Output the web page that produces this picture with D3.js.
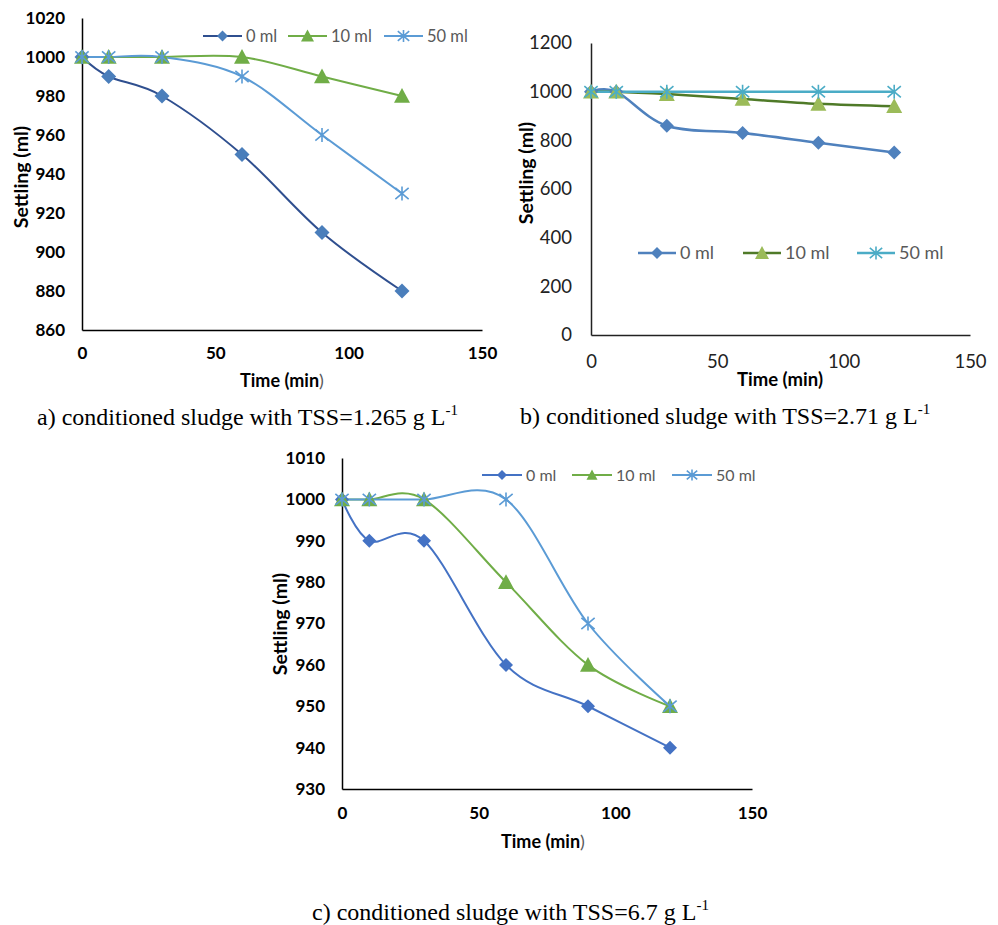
<!DOCTYPE html>
<html>
<head>
<meta charset="utf-8">
<script src="https://cdn.jsdelivr.net/npm/d3@7"></script>
<style>
  body { margin: 0; background: #fff; }
  svg { display: block; }
  .tick-label { font-family: Lato, "Open Sans", sans-serif; }
  .axis-title { font-family: Lato, "Open Sans", sans-serif; font-weight: bold; fill: #000; }
  .legend-text { font-family: Lato, "Open Sans", sans-serif; fill: #595959; }
  .caption { font-family: "Liberation Serif", "Times New Roman", serif; fill: #000; }
</style>
</head>
<body>
<svg id="chart" width="998" height="925"></svg>
<script>
// data
var times = [0, 10, 30, 60, 90, 120];
var seriesNames = ['0 ml', '10 ml', '50 ml'];
var xTicks = [0, 50, 100, 150];

// a) TSS = 1.265 g/L
var a0 = [1000, 990, 980, 950, 910, 880];
var a10 = [1000, 1000, 1000, 1000, 990, 980];
var a50 = [1000, 1000, 1000, 990, 960, 930];
var aTicks = [860, 880, 900, 920, 940, 960, 980, 1000, 1020];

// b) TSS = 2.71 g/L
var b0 = [1000, 1000, 860, 830, 790, 750];
var b10 = [1000, 1000, 990, 970, 950, 940];
var b50 = [1000, 1000, 1000, 1000, 1000, 1000];
var bTicks = [0, 200, 400, 600, 800, 1000, 1200];

// c) TSS = 6.7 g/L
var c0 = [1000, 990, 990, 960, 950, 940];
var c10 = [1000, 1000, 1000, 980, 960, 950];
var c50 = [1000, 1000, 1000, 1000, 970, 950];
var cTicks = [930, 940, 950, 960, 970, 980, 990, 1000, 1010];

var svg = d3.select('#chart');

// marker shapes
function markerPath(kind, s) {
  if (kind === 'diamond') {
    return 'M0,' + (-s) + 'L' + s + ',0L0,' + s + 'L' + (-s) + ',0Z';
  }
  if (kind === 'triangle') {
    return 'M0,' + (-s) + 'L' + s + ',' + (s * 0.85) + 'L' + (-s) + ',' + (s * 0.85) + 'Z';
  }
  // star: vertical bar plus an X
  var dx = s * 0.95, dy = s * 0.8;
  return 'M0,' + (-s) + 'L0,' + s +
    'M' + (-dx) + ',' + (-dy) + 'L' + dx + ',' + dy +
    'M' + (-dx) + ',' + dy + 'L' + dx + ',' + (-dy);
}
var kinds = ['diamond', 'triangle', 'star'];

function drawMarker(g, kind, x, y, s, color) {
  var p = g.append('path')
    .attr('d', markerPath(kind, s))
    .attr('transform', 'translate(' + x + ',' + y + ')');
  if (kind === 'star') {
    p.attr('fill', 'none').attr('stroke', color).attr('stroke-width', 1.6);
  } else {
    p.attr('fill', color);
  }
}

function drawPanel(cfg) {
  var g = svg.append('g');
  var x = d3.scaleLinear().domain([0, 150]).range([cfg.x0, cfg.x1]);
  var y = d3.scaleLinear().domain(cfg.yDomain).range([cfg.yBot, cfg.yTop]);

  // axes (only the lines, no tick marks)
  var xAxis = d3.axisBottom(x).tickValues(xTicks).tickSize(0).tickPadding(cfg.xPad)
    .tickFormat(d3.format('d'));
  var gx = g.append('g')
    .attr('transform', 'translate(0,' + cfg.yBot + ')')
    .call(xAxis);
  var yAxis = d3.axisLeft(y).tickValues(cfg.yTicks).tickSize(0).tickPadding(cfg.yPad)
    .tickFormat(d3.format('d'));
  var gy = g.append('g')
    .attr('transform', 'translate(' + cfg.x0 + ',0)')
    .call(yAxis);

  [gx, gy].forEach(function (ax) {
    ax.select('.domain').attr('stroke', cfg.axisColor).attr('stroke-width', cfg.axisWidth);
    ax.selectAll('text')
      .attr('class', 'tick-label')
      .style('font-size', cfg.tickSize + 'px')
      .style('font-weight', cfg.tickBold ? 'bold' : 'normal')
      .attr('fill', cfg.tickColor);
  });

  // axis titles
  var xt = g.append('text')
    .attr('class', 'axis-title')
    .attr('x', cfg.xTitle[0])
    .attr('y', cfg.xTitle[1])
    .attr('text-anchor', 'middle')
    .style('font-size', cfg.titleSize + 'px');
  xt.append('tspan').text('Time (min');
  xt.append('tspan').text(')').style('font-weight', cfg.parenBold ? 'bold' : 'normal')
    .attr('fill', cfg.parenBold ? '#000' : '#595959');

  g.append('text')
    .attr('class', 'axis-title')
    .attr('transform', 'translate(' + cfg.yTitle[0] + ',' + cfg.yTitle[1] + ') rotate(-90)')
    .attr('text-anchor', 'middle')
    .style('font-size', '19.5px')
    .text('Settling (ml)');

  // series
  var line = d3.line()
    .x(function (d) { return x(d[0]); })
    .y(function (d) { return y(d[1]); })
    .curve(d3.curveCardinal.tension(0));

  cfg.series.forEach(function (vals, i) {
    var pts = times.map(function (t, j) { return [t, vals[j]]; });
    g.append('path')
      .datum(pts)
      .attr('fill', 'none')
      .attr('stroke', cfg.lineColors[i])
      .attr('stroke-width', cfg.lineWidth)
      .attr('d', line);
  });
  cfg.series.forEach(function (vals, i) {
    times.forEach(function (t, j) {
      drawMarker(g, kinds[i], x(t), y(vals[j]), cfg.markerSize[i], cfg.markerColors[i]);
    });
  });

  // legend
  seriesNames.forEach(function (name, i) {
    var lx = cfg.legendX[i], ly = cfg.legendY;
    g.append('line')
      .attr('x1', lx).attr('x2', lx + cfg.legendLen)
      .attr('y1', ly).attr('y2', ly)
      .attr('stroke', cfg.lineColors[i])
      .attr('stroke-width', cfg.lineWidth);
    drawMarker(g, kinds[i], lx + cfg.legendLen / 2, ly, cfg.legendMarker[i], cfg.markerColors[i]);
    g.append('text')
      .attr('class', 'legend-text')
      .attr('x', lx + cfg.legendLen + 4)
      .attr('y', ly)
      .attr('dy', '0.35em')
      .style('font-size', cfg.legendSize + 'px')
      .text(name);
  });

  // caption
  var cap = svg.append('text')
    .attr('class', 'caption')
    .attr('x', cfg.caption[0])
    .attr('y', cfg.caption[1])
    .style('font-size', '24px');
  cap.append('tspan').text(cfg.captionText);
  cap.append('tspan').text('-1').attr('dy', -10).style('font-size', '15px');
}

drawPanel({
  x0: 82, x1: 482, yTop: 18, yBot: 330,
  yDomain: [860, 1020], yTicks: aTicks,
  series: [a0, a10, a50],
  lineColors: ['#2F4F8F', '#70AD47', '#5B9BD5'],
  markerColors: ['#4A7EBB', '#70AD47', '#5B9BD5'],
  markerSize: [7.5, 8, 7], legendMarker: [5.5, 6.5, 6],
  lineWidth: 2, axisColor: '#000', axisWidth: 1.5,
  tickSize: 17, tickBold: true, tickColor: '#000', xPad: 17, yPad: 17,
  titleSize: 18, parenBold: false,
  xTitle: [282, 387], yTitle: [28, 177],
  legendX: [203, 288, 384], legendY: 36, legendLen: 39, legendSize: 16.5,
  caption: [37, 425], captionText: 'a) conditioned sludge with TSS=1.265 g L'
});

drawPanel({
  x0: 591, x1: 970, yTop: 43, yBot: 335,
  yDomain: [0, 1200], yTicks: bTicks,
  series: [b0, b10, b50],
  lineColors: ['#4F81BD', '#4F7A28', '#4BACC6'],
  markerColors: ['#4F81BD', '#9BBB59', '#4BACC6'],
  markerSize: [7, 8, 7], legendMarker: [6, 7, 6.5],
  lineWidth: 2.5, axisColor: '#222', axisWidth: 1.5,
  tickSize: 18.5, tickBold: false, tickColor: '#222', xPad: 20, yPad: 19,
  titleSize: 18.5, parenBold: true,
  xTitle: [780, 386], yTitle: [533, 173],
  legendX: [638, 743, 857], legendY: 253, legendLen: 38, legendSize: 18,
  caption: [520, 424], captionText: 'b) conditioned sludge with TSS=2.71 g L'
});

drawPanel({
  x0: 342, x1: 752, yTop: 458, yBot: 789,
  yDomain: [930, 1010], yTicks: cTicks,
  series: [c0, c10, c50],
  lineColors: ['#4472C4', '#70AD47', '#5B9BD5'],
  markerColors: ['#4472C4', '#70AD47', '#5B9BD5'],
  markerSize: [7, 8, 7], legendMarker: [5, 5.5, 5.5],
  lineWidth: 2, axisColor: '#000', axisWidth: 1.5,
  tickSize: 17, tickBold: true, tickColor: '#000', xPad: 18, yPad: 17,
  titleSize: 18, parenBold: false,
  xTitle: [543, 848], yTitle: [287, 624],
  legendX: [482, 572, 672], legendY: 475, legendLen: 40, legendSize: 16,
  caption: [312, 920], captionText: 'c) conditioned sludge with TSS=6.7 g L'
});
</script>
</body>
</html>
